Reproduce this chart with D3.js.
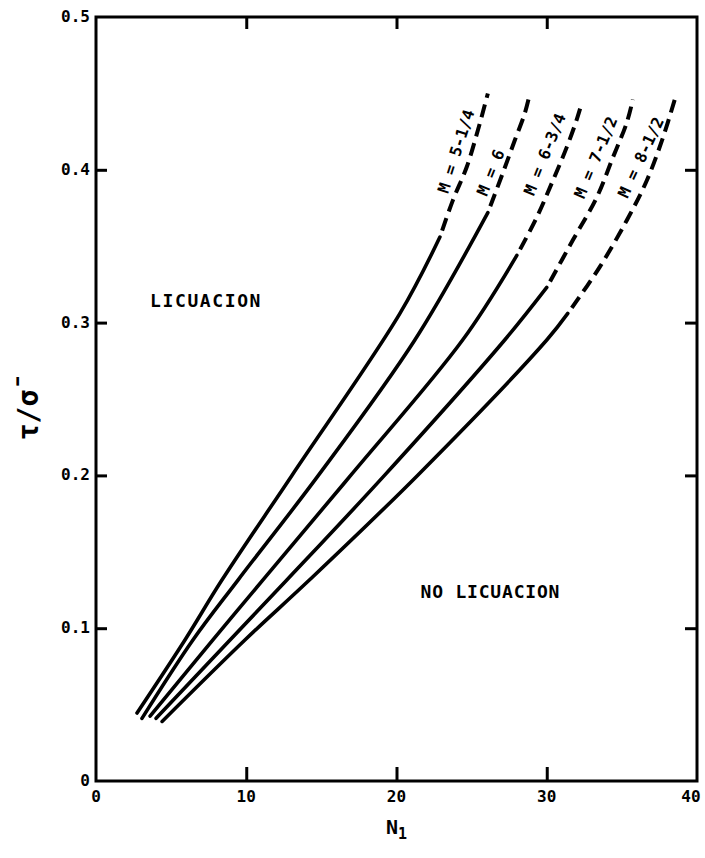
<!DOCTYPE html>
<html>
<head>
<meta charset="utf-8">
<script src="https://cdn.jsdelivr.net/npm/d3@7/dist/d3.min.js"></script>
<style>
  html, body { margin: 0; padding: 0; background: #fff; }
  svg { display: block; }
  text { font-family: "DejaVu Sans Mono", "Liberation Mono", monospace; font-weight: bold; fill: #000; }
</style>
</head>
<body>
<svg id="chart" width="705" height="858"></svg>
<script>
// ---- data (N1, tau/sigma) ----
const xTicks = [0, 10, 20, 30, 40];
const xTickShift = [0, 0, 0, 0, -6];
const yTicks = [0, 0.1, 0.2, 0.3, 0.4, 0.5];
const yTickLabels = ["0", "0.1", "0.2", "0.3", "0.4", "0.5"];
const curveLabels = ["M = 5-1/4", "M = 6", "M = 6-3/4", "M = 7-1/2", "M = 8-1/2"];

const solidM525 = [[2.73, 0.0445], [5.92, 0.0923], [8.38, 0.1315], [13.04, 0.2], [20.23, 0.306], [22.89, 0.356]];
const solidM6   = [[3.06, 0.041], [6.45, 0.0923], [9.45, 0.1315], [14.8, 0.2], [21.22, 0.2886], [26.08, 0.372]];
const solidM675 = [[3.6, 0.0425], [7.78, 0.0923], [11.1, 0.1315], [16.95, 0.2], [24.4, 0.2886], [28.01, 0.344]];
const solidM75  = [[4.0, 0.041], [8.92, 0.0923], [12.7, 0.1315], [19.2, 0.2], [27.2, 0.2886], [30.0, 0.323]];
const solidM85  = [[4.4, 0.039], [9.91, 0.0923], [14.2, 0.1315], [21.4, 0.2], [30.0, 0.2886], [31.4, 0.306]];

const dashM525 = [[22.89, 0.356], [23.75, 0.380], [24.68, 0.402], [25.42, 0.426], [26.08, 0.450]];
const dashM6   = [[26.08, 0.372], [27.08, 0.398], [27.88, 0.4195], [28.54, 0.437], [28.88, 0.450]];
const dashM675 = [[28.01, 0.344], [29.34, 0.369], [30.41, 0.393], [31.34, 0.415], [32.0, 0.433], [32.34, 0.444]];
const dashM75  = [[30.0, 0.323], [31.74, 0.354], [33.33, 0.382], [34.4, 0.408], [35.33, 0.431], [35.73, 0.446]];
const dashM85  = [[31.4, 0.306], [33.5, 0.336], [35.33, 0.367], [36.66, 0.393], [37.73, 0.421], [38.52, 0.446]];

// label anchor points (N1, tau) and rotation
const labelPos = [[24.0, 0.412], [26.3, 0.398], [29.9, 0.410], [33.3, 0.408], [36.3, 0.408]];
const labelAngle = [-72, -68, -68, -67, -65];

const regionLabels = ["LICUACION", "NO LICUACION"];
const regionPos = [[3.6, 0.310], [21.6, 0.120]];
const regionSpacing = [1.6, 0.8];

// ---- drawing ----
const svg = d3.select("#chart");
const x = d3.scaleLinear().domain([0, 40]).range([96, 697]);
const y = d3.scaleLinear().domain([0, 0.5]).range([781, 17]);

const line = d3.line().x(d => x(d[0])).y(d => y(d[1])).curve(d3.curveCatmullRom.alpha(0.5));

const solids = [solidM525, solidM6, solidM675, solidM75, solidM85];
const dashes = [dashM525, dashM6, dashM675, dashM75, dashM85];

solids.forEach(s => {
  svg.append("path").attr("d", line(s)).attr("fill", "none")
    .attr("stroke", "#000").attr("stroke-width", 3.6).attr("stroke-linecap", "round");
});
dashes.forEach(s => {
  svg.append("path").attr("d", line(s)).attr("fill", "none")
    .attr("stroke", "#000").attr("stroke-width", 4)
    .attr("stroke-dasharray", "13 7").attr("stroke-dashoffset", -7);
});

// frame
svg.append("rect").attr("x", x(0)).attr("y", y(0.5))
  .attr("width", x(40) - x(0)).attr("height", y(0) - y(0.5))
  .attr("fill", "none").attr("stroke", "#000").attr("stroke-width", 3);

// inner ticks with axes
const tickX = [10, 20, 30];
const tickY = [0.1, 0.2, 0.3, 0.4];
const axB = d3.axisTop(x).tickValues(tickX).tickSize(14).tickFormat("");
const axT = d3.axisBottom(x).tickValues(tickX).tickSize(12).tickFormat("");
const axL = d3.axisRight(y).tickValues(tickY).tickSize(11).tickFormat("");
const axR = d3.axisLeft(y).tickValues(tickY).tickSize(12).tickFormat("");
[[axB, `translate(0,${y(0)})`], [axT, `translate(0,${y(0.5)})`],
 [axL, `translate(${x(0)},0)`], [axR, `translate(${x(40)},0)`]].forEach(([a, t]) => {
  const g = svg.append("g").attr("transform", t).call(a);
  g.select(".domain").remove();
  g.selectAll("line").attr("stroke", "#000").attr("stroke-width", 3);
});

// tick labels
svg.selectAll(".xl").data(xTicks).enter().append("text")
  .attr("x", (d, i) => x(d) + xTickShift[i]).attr("y", y(0) + 21).attr("text-anchor", "middle")
  .attr("font-size", 16).text(d => d);
svg.selectAll(".yl").data(yTicks).enter().append("text")
  .attr("x", x(0) - 6).attr("y", d => y(d) + 5).attr("text-anchor", "end")
  .attr("font-size", 16).text((d, i) => yTickLabels[i]);

// axis titles
svg.append("text").attr("x", x(20)).attr("y", 834).attr("text-anchor", "middle")
  .attr("font-size", 20).text("N").append("tspan").attr("font-size", 15).attr("dy", 5).text("1");
svg.append("text").attr("transform", "translate(38,415) rotate(-90)")
  .attr("text-anchor", "middle").attr("font-size", 28)
  .attr("font-family", "DejaVu Serif").attr("font-weight", "normal")
  .text("τ/σ̄");

// region labels
regionLabels.forEach((t, i) => {
  svg.append("text").attr("x", x(regionPos[i][0])).attr("y", y(regionPos[i][1]))
    .attr("font-size", 18).attr("letter-spacing", regionSpacing[i]).text(t);
});

// curve labels
curveLabels.forEach((t, i) => {
  svg.append("text")
    .attr("transform", `translate(${x(labelPos[i][0])},${y(labelPos[i][1])}) rotate(${labelAngle[i]})`)
    .attr("text-anchor", "middle").attr("dy", 5).attr("font-size", 16).text(t);
});
</script>
</body>
</html>
